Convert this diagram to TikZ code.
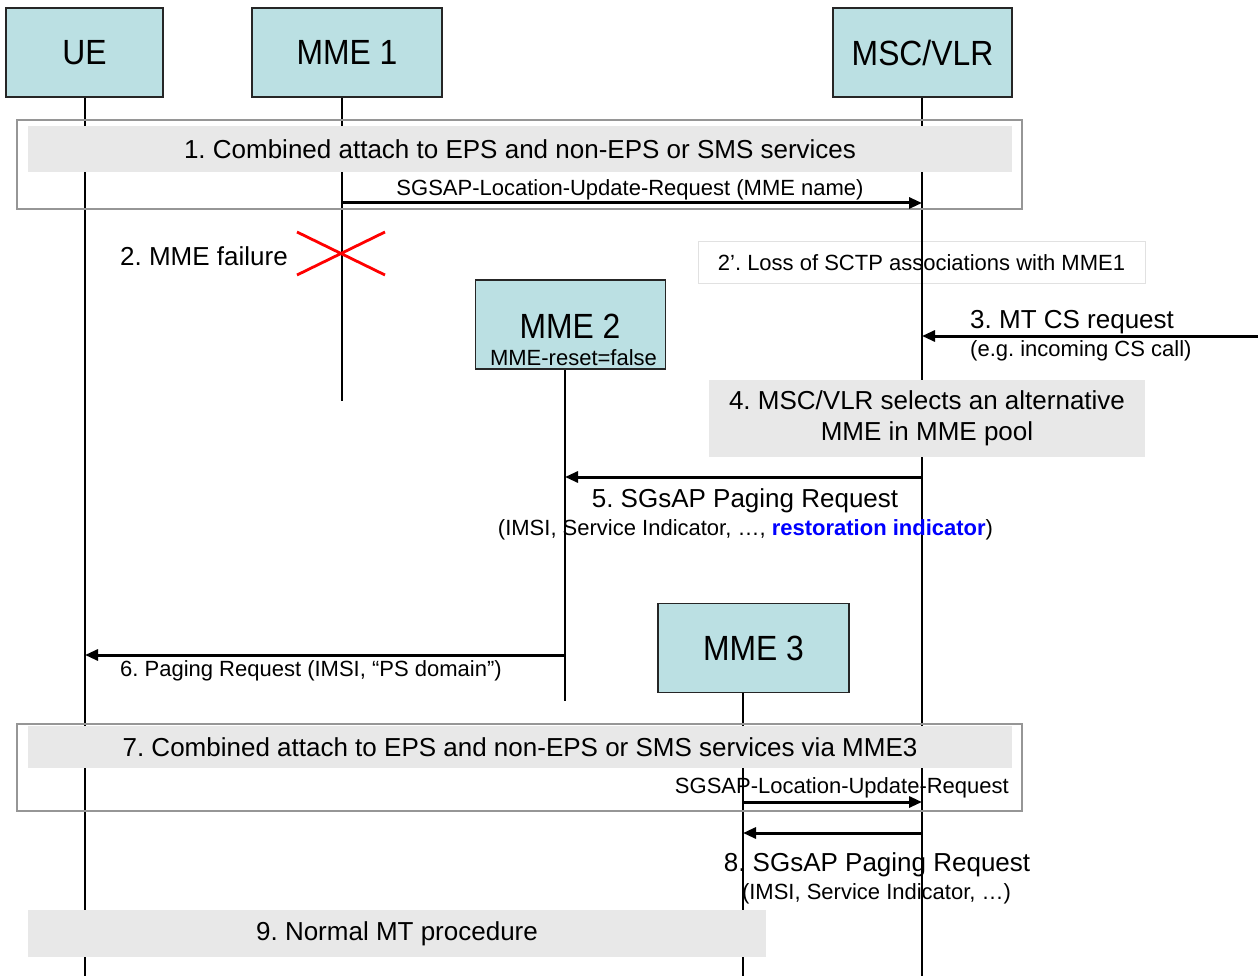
\documentclass[tikz,border=0pt]{standalone}
\usepackage{fontspec}
\setmainfont{Liberation Sans}
\newfontfamily\namefont[FakeStretch=0.91]{Liberation Sans}
\usetikzlibrary{arrows.meta}
\definecolor{boxcyan}{RGB}{187,224,227}
\definecolor{stepgray}{RGB}{232,232,232}
\definecolor{framegray}{RGB}{150,150,150}
\definecolor{notegray}{RGB}{225,225,225}
\definecolor{restblue}{RGB}{0,0,255}
\frenchspacing
\begin{document}
\begin{tikzpicture}[x=1pt,y=-1pt,
    entity/.style={draw=black!85,line width=1.2pt,fill=boxcyan,inner sep=0pt,minimum height=89pt},
    stepbox/.style={fill=stepgray,inner sep=0pt,align=center},
    stepframe/.style={draw=framegray,line width=1.2pt},
    lifeline/.style={line width=1.2pt},
    msg/.style={line width=3pt,-{Triangle[length=13pt,width=11pt]}},
    bigtxt/.style={font=\namefont\fontsize{35}{40}\selectfont},
    midtxt/.style={font=\fontsize{26}{31}\selectfont,inner sep=0pt},
    smalltxt/.style={font=\fontsize{22}{26}\selectfont,inner sep=0pt}]
	\useasboundingbox[fill=white] (0,0) rectangle (1258,976);

	\node [entity,bigtxt,minimum width=157pt] (ue) at (84.5,52.5) {UE};
	\node [entity,bigtxt,minimum width=190pt] (mmeA) at (347,52.5) {MME 1};
	\node [entity,bigtxt,minimum width=179pt] (msc) at (922.5,52.5) {MSC/VLR};
	\node [entity,minimum width=190pt] (mmeB) at (570.5,324.5) {};
	\node [bigtxt,inner sep=0pt] (mmeBname) at (570,326) {MME 2};
	\node [smalltxt] (mmeBreset) at (573.5,358) {MME-reset=false};
	\node [entity,bigtxt,minimum width=191pt] (mmeC) at (753.5,648) {MME 3};

	\coordinate (ueL) at ([xshift=0.5pt]ue.south);
	\coordinate (mmeAL) at ([xshift=-5pt]mmeA.south);
	\coordinate (mscL) at ([xshift=-0.5pt]msc.south);
	\coordinate (mmeBL) at ([xshift=-5.5pt]mmeB.south);
	\coordinate (mmeCL) at ([xshift=-10.5pt]mmeC.south);
	\coordinate (bottom) at (0,976);

	\node [draw=notegray,line width=1pt,fill=white,smalltxt,minimum width=447pt,minimum height=42pt] (loss) at (921.5,263) {2’. Loss of SCTP associations with MME1};

	\draw [lifeline] (ueL) -- (ueL |- bottom);
	\draw [lifeline] (mmeAL) -- ++(0,303);
	\draw [lifeline] (mscL) -- (mscL |- bottom);
	\draw [lifeline] (mmeBL) -- ++(0,331);
	\draw [lifeline] (mmeCL) -- (mmeCL |- bottom);

	\draw [stepframe] (17,120) rectangle (1022,209);
	\node [stepbox,midtxt,minimum width=984pt,minimum height=46pt] (attach) at (520,149) {1. Combined attach to EPS and non-EPS or SMS services};
	\node [stepbox,midtxt,minimum width=436pt,minimum height=77pt] (select) at (927,418.5) {4. MSC/VLR selects an alternative\\MME in MME pool};
	\draw [stepframe] (17,724) rectangle (1022,811);
	\node [stepbox,midtxt,minimum width=984pt,minimum height=42pt] (reattach) at (520,747) {7. Combined attach to EPS and non-EPS or SMS services via MME3};
	\node [stepbox,midtxt,minimum width=738pt,minimum height=47pt] (normal) at (397,933.5) {9. Normal MT procedure};

	\coordinate (m1) at (0,203);
	\draw [msg] (mmeAL |- m1) -- (mscL |- m1);
	\node [smalltxt] (m1txt) at (630,190) {SGSAP-Location-Update-Request (MME name)};

	\node [midtxt] (fail) at (204,256) {2. MME failure};
	\draw [red,line width=2.8pt] (297,232) -- (385,275) (297,275) -- (385,232);

	\coordinate (m3) at (1258,336);
	\draw [msg] (m3) -- (mscL |- m3);
	\node [midtxt,anchor=west] (m3txt) at (970,322) {3. MT CS request};
	\node [smalltxt,anchor=west] (m3sub) at (970,351) {(e.g. incoming CS call)};

	\coordinate (m5) at (0,477);
	\draw [msg] (mscL |- m5) -- (mmeBL |- m5);
	\node [midtxt] (m5txt) at (745,501) {5. SGsAP Paging Request};
	\node [smalltxt] (m5sub) at (745.5,530) {(IMSI, Service Indicator, …, \textcolor{restblue}{\textbf{restoration indicator}})};

	\coordinate (m6) at (0,655);
	\draw [msg] (mmeBL |- m6) -- (ueL |- m6);
	\node [smalltxt,anchor=west] (m6txt) at (120,671) {6. Paging Request (IMSI, “PS domain”)};

	\coordinate (m7) at (0,802);
	\draw [msg] (mmeCL |- m7) -- (mscL |- m7);
	\node [smalltxt,anchor=east] (m7txt) at (1009,788) {SGSAP-Location-Update-Request};

	\coordinate (m8) at (0,833);
	\draw [msg] (mscL |- m8) -- (mmeCL |- m8);
	\node [midtxt] (m8txt) at (877,865) {8. SGsAP Paging Request};
	\node [smalltxt] (m8sub) at (876.5,894) {(IMSI, Service Indicator, …)};
\end{tikzpicture}
\end{document}
